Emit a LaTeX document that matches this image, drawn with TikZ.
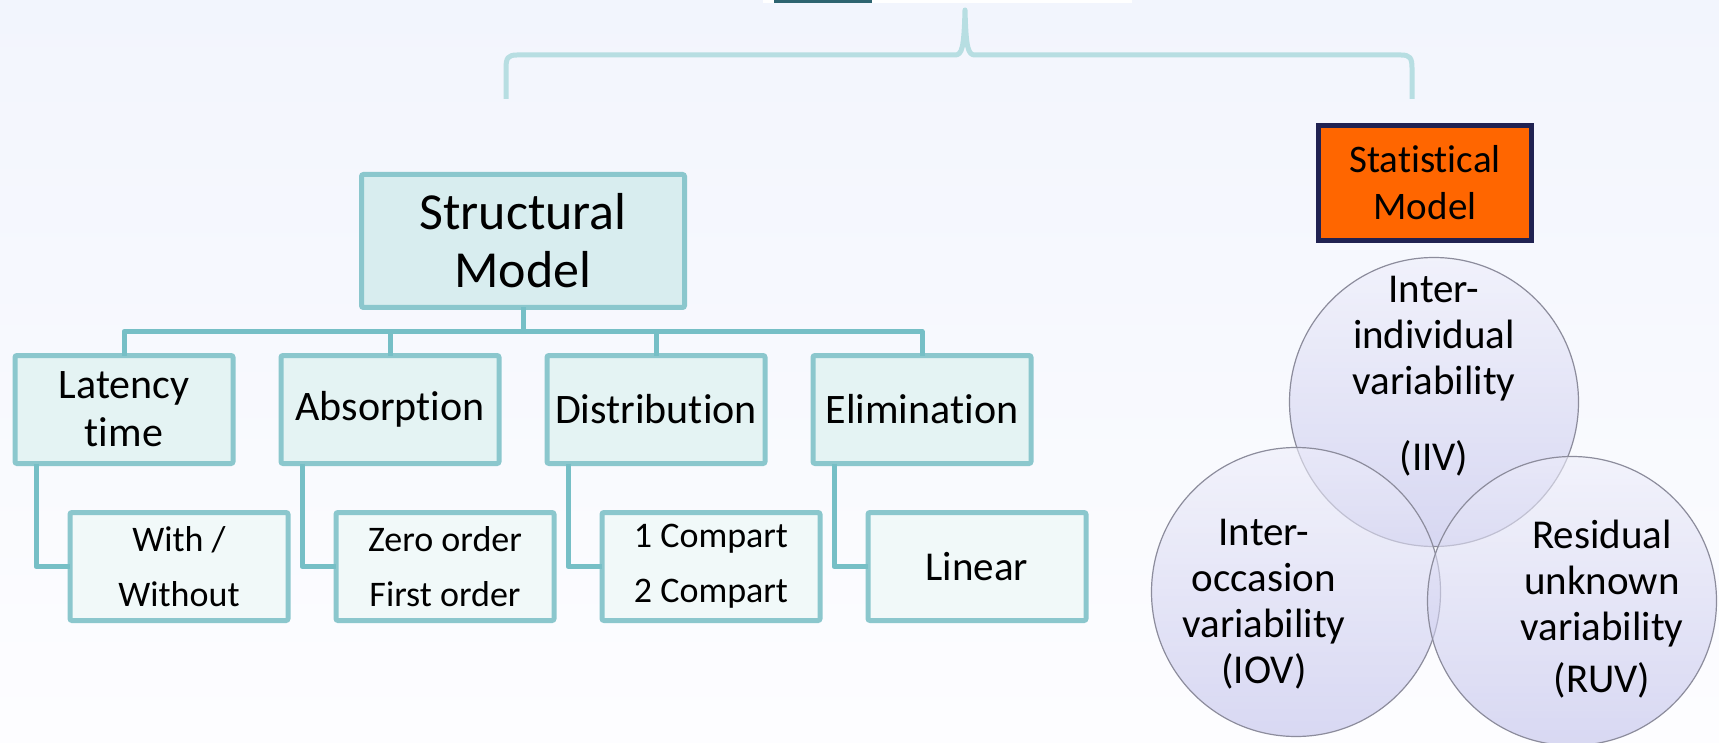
\documentclass[tikz,border=0pt]{standalone}
\usepackage{fontspec}
\setmainfont{Carlito}[Ligatures={NoCommon}, RawFeature={-liga;-dlig;-calt}]
\usepackage{tikz}
\usetikzlibrary{positioning, calc}
\definecolor{bgtop}{RGB}{242,245,253}
\definecolor{bgbot}{RGB}{253,253,255}
\definecolor{tealline}{RGB}{118,191,198}
\definecolor{tealedge}{RGB}{139,199,205}
\definecolor{tealdark}{RGB}{216,237,239}
\definecolor{tealmid}{RGB}{228,243,243}
\definecolor{teallight}{RGB}{241,249,249}
\definecolor{bracecol}{RGB}{183,222,226}
\definecolor{topteal}{RGB}{46,100,112}
\definecolor{statorange}{RGB}{255,102,0}
\definecolor{statnavy}{RGB}{32,34,82}
\definecolor{venntop}{RGB}{238,238,250}
\definecolor{vennbot}{RGB}{192,192,234}
\definecolor{venndraw}{RGB}{140,140,156}
\tikzset{
  smbox/.style={
    rectangle, rounded corners=2pt, draw=tealedge, line width=5pt, fill=tealdark,
    minimum width=323pt, minimum height=133pt, inner sep=0pt, outer sep=0pt,
    align=center, font={\fontsize{52}{58}\selectfont}
  },
  catbox/.style={
    rectangle, rounded corners=2pt, draw=tealedge, line width=5pt, fill=tealmid,
    minimum width=218pt, minimum height=108pt, inner sep=0pt, outer sep=0pt,
    align=center, font={\fontsize{42}{48}\selectfont}
  },
  subbox/.style={
    rectangle, rounded corners=2pt, draw=tealedge, line width=5pt, fill=teallight,
    minimum width=218pt, minimum height=108pt, inner sep=0pt, outer sep=0pt,
    align=center, font={\fontsize{36}{55}\selectfont}
  },
  statbox/.style={
    rectangle, draw=statnavy, line width=5pt, fill=statorange,
    minimum width=213pt, minimum height=115pt, inner sep=0pt, outer sep=0pt,
    align=center, font={\fontsize{39}{47}\selectfont}
  },
  link/.style={
    draw=tealline, line width=5pt, line join=round
  }
}

\begin{document}
\begin{tikzpicture}[
  x=1pt, y=-1pt,
  venn/.style={circle, draw=venndraw, line width=1.2pt, top color=venntop, bottom color=vennbot,
    fill opacity=0.6, minimum size=289pt, inner sep=0pt},
  venntext/.style={align=center, font={\fontsize{41}{46}\selectfont}},
  bracepath/.style={draw=bracecol, line width=5pt, line join=round}
]
\useasboundingbox (0,0) rectangle (1719,743);
\shade[top color=bgtop, bottom color=bgbot] (0,0) rectangle (1719,743);

% cut-off item at the top
\fill[white] (763,0) rectangle (1132,3);
\fill[topteal] (774,0) rectangle (872,3);

% brace
\coordinate (braceL) at (506,99);
\coordinate (braceR) at (1412,99);
\coordinate (braceT) at (965,10);
\draw[bracepath] (braceL) -- (506,68) .. controls (506,58) and (508,55) .. (517,55)
  -- (955,55) .. controls (962,55) and (964,48) .. (braceT)
  .. controls (966,48) and (968,55) .. (975,55)
  -- (1401,55) .. controls (1410,55) and (1412,58) .. (1412,68) -- (braceR);

% Structural model
\node[smbox] (sm) at (523,241) {Structural\\Model};

\node[catbox] (lat) at (124,409.5) {Latency\\time};
\node[catbox, right=48pt of lat] (abs) {Absorption};
\node[catbox, right=48pt of abs] (dis) {Distribution};
\node[catbox, right=48pt of dis] (eli) {Elimination};

\node[subbox, below=49pt of lat, xshift=55pt] (with) {With /\\Without};
\node[subbox, below=49pt of abs, xshift=55pt] (order) {Zero order\\First order};
\node[subbox, below=49pt of dis, xshift=55pt] (comp) {1 Compart\\2 Compart};
\node[subbox, below=49pt of eli, xshift=55pt, font={\fontsize{41}{48}\selectfont}] (lin) {Linear};

\draw[link] (sm.south) -- ++(0,24) coordinate (bus);
\foreach \n in {lat,abs,dis,eli}
  \draw[link] (\n.north) |- (bus);

\draw[link] ([xshift=21pt]lat.south west) |- (with.west);
\draw[link] ([xshift=21pt]abs.south west) |- (order.west);
\draw[link] ([xshift=21pt]dis.south west) |- (comp.west);
\draw[link] ([xshift=21pt]eli.south west) |- (lin.west);

% Statistical model
\node[statbox] (stat) at (1425,183) {Statistical\\Model};

\node[venn] (iiv) at (1434,402) {};
\node[venn] (iov) at (1296,592) {};
\node[venn] (ruv) at (1572,601) {};

\node[venntext] (iivtext) at ([yshift=26pt]iiv.center) {Inter-\\individual\\variability\\[30pt](IIV)};
\node[venntext] (iovtext) at ([xshift=-32pt, yshift=-12pt]iov.center) {Inter-\\occasion\\variability\\(IOV)};
\node[venntext] (ruvtext) at ([xshift=30pt, yshift=-8pt]ruv.center) {Residual\\unknown\\variability\\[6pt](RUV)};

\end{tikzpicture}
\end{document}
